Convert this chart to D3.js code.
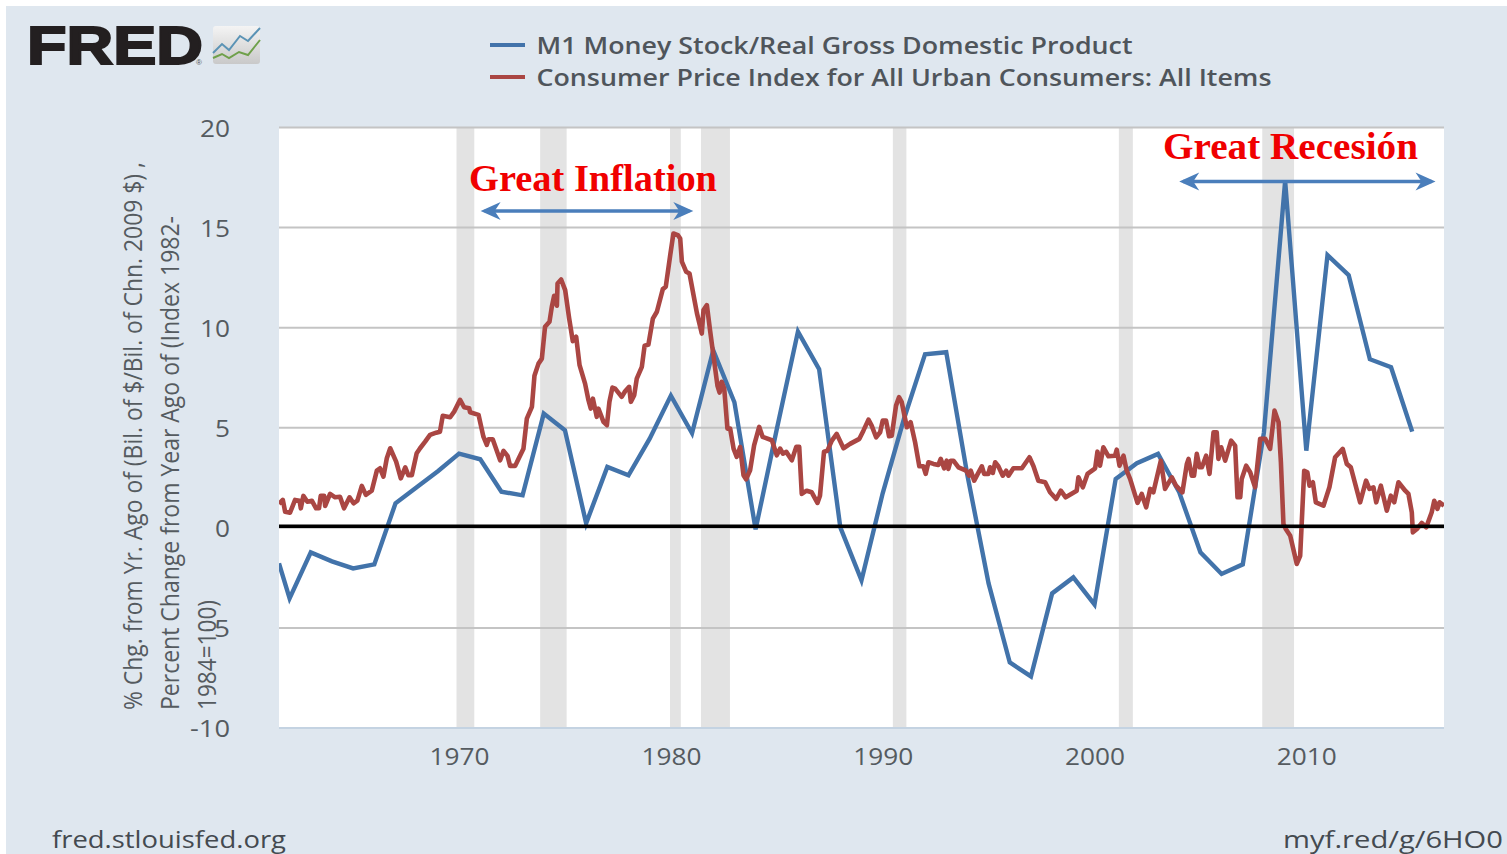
<!DOCTYPE html>
<html><head><meta charset="utf-8">
<script src="https://cdn.jsdelivr.net/npm/d3@7"></script>
<style>html,body{margin:0;padding:0;background:#fff;overflow:hidden}svg{display:block}</style>
</head><body><svg id="c" width="1507" height="854"></svg>
<script>
const m1Years=[1961.5,1962,1963,1964,1965,1966,1967,1968,1969,1970,1971,1972,1973,1974,1975,1976,1977,1978,1979,1980,1981,1982,1983,1984,1985,1986,1987,1988,1989,1990,1991,1992,1993,1994,1995,1996,1997,1998,1999,2000,2001,2002,2003,2004,2005,2006,2007,2008,2009,2010,2011,2012,2013,2014,2015];
const m1Values=[-1.8,-3.55,-1.25,-1.7,-2.05,-1.85,1.2,2.0,2.8,3.68,3.4,1.78,1.6,5.68,4.85,0.2,3.02,2.6,4.43,6.58,4.7,8.85,6.25,-0.1,4.9,9.78,7.9,0.0,-2.65,1.7,5.4,8.65,8.75,2.6,-2.8,-6.75,-7.45,-3.3,-2.5,-3.85,2.42,3.2,3.67,1.75,-1.25,-2.33,-1.85,4.75,17.3,3.83,13.6,12.6,8.4,8.0,4.78];

const cpiYears=[1961.5,1961.68,1961.79,1962.02,1962.26,1962.47,1962.53,1962.65,1962.84,1963.05,1963.25,1963.39,1963.47,1963.63,1963.68,1963.91,1964.15,1964.38,1964.57,1964.83,1965.02,1965.2,1965.41,1965.6,1965.88,1966.12,1966.27,1966.43,1966.59,1966.75,1967.03,1967.25,1967.46,1967.61,1967.77,1968.0,1968.16,1968.4,1968.63,1968.92,1969.1,1969.23,1969.58,1969.77,1970.05,1970.24,1970.48,1970.52,1970.92,1971.15,1971.31,1971.39,1971.59,
1971.94,1972.1,1972.29,1972.41,1972.65,1972.81,1973.04,1973.2,1973.44,1973.56,1973.75,1973.91,1974.06,1974.27,1974.38,1974.49,1974.62,1974.65,1974.82,1975.01,1975.2,1975.37,1975.53,1975.69,1975.95,1976.11,1976.22,1976.32,1976.5,1976.58,1976.82,1976.98,1977.1,1977.24,1977.37,1977.68,1977.84,1978.03,1978.11,1978.27,1978.39,1978.63,1978.76,1978.94,1979.15,1979.34,1979.62,1979.76,1979.97,1980.12,1980.33,1980.44,1980.52,1980.72,1980.88,1981.1,1981.23,1981.46,1981.54,1981.7,1981.85,1982.01,1982.2,1982.3,1982.4,1982.52,1982.67,1982.8,1982.96,1983.11,1983.27,1983.43,1983.55,1983.74,1983.93,1984.17,1984.33,1984.77,1985.0,1985.16,1985.29,1985.45,1985.71,1985.92,1986.06,
1986.18,1986.41,1986.65,1986.92,1987.04,1987.23,1987.39,1987.6,1987.83,1988.15,1988.46,1988.9,1989.09,1989.33,1989.48,1989.69,1989.88,1990.0,1990.16,1990.3,1990.43,1990.63,1990.77,1990.9,1991.14,1991.32,1991.53,1991.73,1991.92,1992.03,1992.16,1992.4,1992.63,1992.74,1992.9,1993.02,1993.1,1993.21,1993.34,1993.58,1993.94,1994.08,1994.16,1994.32,1994.68,1994.79,1994.99,1995.07,1995.2,1995.31,1995.46,1995.67,1995.83,1995.94,1996.17,1996.57,1996.93,1997.12,1997.35,1997.67,1997.9,1998.19,1998.41,1998.64,1999.16,1999.24,1999.45,1999.67,2000.03,2000.14,2000.26,2000.42,2000.66,2000.97,2001.05,2001.18,
2001.37,2001.52,2001.68,2002.03,2002.23,2002.44,2002.63,2002.78,2003.13,2003.33,2003.65,2003.85,2004.15,2004.36,2004.44,2004.59,2004.7,2004.83,2004.96,2005.07,2005.27,2005.43,2005.62,2005.77,2005.85,2005.98,2006.17,2006.45,2006.64,2006.75,2006.88,2006.95,2007.16,2007.35,2007.58,2007.82,2008.06,2008.29,2008.5,2008.69,2008.8,2008.92,2009.03,2009.24,2009.55,2009.71,2009.9,2010.05,2010.15,2010.31,2010.45,2010.81,2011.09,2011.36,2011.72,2011.91,2012.1,2012.54,2012.82,2012.98,2013.17,2013.3,2013.52,2013.8,2013.99,2014.15,2014.35,2014.67,2014.82,2014.98,2015.03,2015.22,2015.45,2015.66,2015.92,2016.04,2016.19,2016.29,2016.5];
const cpiValues=[1.17,1.37,0.78,0.73,1.37,1.33,0.95,1.57,1.28,1.33,0.95,0.95,1.58,1.58,1.07,1.67,1.5,1.53,0.95,1.5,1.2,1.33,2.07,1.62,1.83,2.83,2.95,2.53,3.45,3.95,3.28,2.45,3.0,2.6,2.6,3.7,3.95,4.28,4.62,4.73,4.78,5.57,5.5,5.78,6.37,6.0,5.95,5.75,5.62,4.53,4.12,4.4,4.4,
3.35,3.82,3.57,3.07,3.07,3.43,3.93,5.43,6.02,7.57,8.18,8.43,10.02,10.27,11.02,11.57,11.07,12.18,12.38,11.85,10.43,9.3,9.52,8.1,7.18,6.35,5.93,6.43,5.52,5.93,5.27,5.1,6.27,6.98,6.93,6.52,6.8,7.02,6.27,6.6,7.43,8.02,9.07,9.13,10.43,10.77,11.9,12.02,13.6,14.68,14.6,14.43,13.27,12.77,12.68,11.43,10.7,9.68,10.85,11.1,9.85,8.57,7.07,6.73,7.27,6.93,4.93,4.93,3.93,3.52,4.02,2.6,2.4,2.85,4.1,5.02,4.52,4.35,3.6,3.93,3.68,3.77,3.35,4.02,4.02,
1.67,1.83,1.75,1.22,1.58,3.78,3.83,4.33,4.67,3.95,4.17,4.42,4.83,5.38,5.08,4.5,4.75,5.33,5.33,4.55,4.58,6.08,6.5,6.25,5.0,5.25,4.25,3.05,3.05,2.67,3.25,3.17,3.12,3.42,2.95,3.33,2.92,3.33,3.33,3.0,2.83,2.58,2.83,2.33,3.05,2.67,2.67,3.0,2.72,3.25,3.05,2.58,2.83,2.58,2.95,2.95,3.5,3.05,2.33,2.25,1.75,1.42,1.83,1.5,1.83,2.5,2.0,2.67,2.95,3.78,3.08,4.0,3.55,3.58,3.88,3.08,
3.58,2.83,2.42,1.22,1.67,1.0,1.92,1.75,3.33,1.92,2.5,2.08,1.75,3.17,3.42,2.58,2.58,3.67,3.0,3.0,3.58,2.67,4.75,4.75,3.42,4.0,3.33,4.33,4.08,1.5,1.5,2.42,3.08,2.75,2.0,4.42,4.42,3.92,5.83,5.25,3.25,0.17,-0.08,-0.42,-1.83,-1.42,2.83,2.75,2.08,2.25,1.25,1.08,2.0,3.5,3.92,3.17,3.0,1.25,2.33,1.92,2.0,1.25,2.08,0.83,1.58,1.25,2.25,1.83,1.67,0.75,-0.25,-0.08,0.22,0,0.75,1.33,0.92,1.25,1.08];

const recessionStarts=[1969.88,1973.83,1979.96,1981.42,1990.48,2001.15,2007.92];
const recessionEnds=[1970.72,1975.08,1980.47,1982.79,1991.12,2001.81,2009.42];
const xTicks=[1970,1980,1990,2000,2010];
const yTicks=[-10,-5,0,5,10,15,20];
const legendLabels=["M1 Money Stock/Real Gross Domestic Product","Consumer Price Index for All Urban Consumers: All Items"];
const axisTitleLines=["% Chg. from Yr. Ago of (Bil. of $/Bil. of Chn. 2009 $) ,","Percent Change from Year Ago of (Index 1982-","1984=100)"];
const arrowRanges=[[1971.02,1981.06],[2004.0,2016.1]];
const arrowLevels=[15.8,17.28];
const noteLabels=["Great Inflation","Great Recesión"];
const zeroLine=0.05;

const BLUE="#4273aa",RED="#aa4643",TXT="#555b60";
const svg=d3.select("#c");
const FONT="'Open Sans',sans-serif";
svg.append("rect").attr("x",6).attr("y",6).attr("width",1501).attr("height",848).attr("fill","#dfe7ef");

const x=d3.scaleLinear().domain([1961.5,2016.5]).range([279,1444]);
const y=d3.scaleLinear().domain([-10,20]).range([727.5,127]);

svg.append("rect").attr("x",279).attr("y",127).attr("width",1165).attr("height",600.5).attr("fill","#fff");

svg.append("g").selectAll("rect").data(recessionStarts).join("rect")
 .attr("x",d=>x(d)).attr("y",127).attr("height",600.5)
 .attr("width",(d,i)=>x(recessionEnds[i])-x(d)).attr("fill","#e3e3e3");

// Axes
const gy=svg.append("g").attr("transform","translate(279,0)")
 .call(d3.axisLeft(y).tickValues(yTicks).tickSize(-1165).tickPadding(49).tickFormat(d=>d));
gy.select(".domain").remove();
gy.selectAll("line").attr("stroke","#c4c4c4").attr("stroke-width",2);
gy.selectAll("line").filter(d=>d===-10).attr("stroke","#c4d3e2");
gy.selectAll("text").attr("font-family",FONT).attr("font-size",24).attr("fill",TXT).attr("dy","0.38em")
  .attr("textLength",d=>Math.abs(d).toString().length*15+(d<0?10:0)).attr("lengthAdjust","spacingAndGlyphs");

const gx=svg.append("g").attr("transform","translate(0,727.5)")
 .call(d3.axisBottom(x).tickValues(xTicks).tickSize(0).tickPadding(20).tickFormat(d3.format("d")));
gx.select(".domain").remove();
gx.selectAll("text").attr("font-family",FONT).attr("font-size",24).attr("fill",TXT)
  .attr("textLength",60).attr("lengthAdjust","spacingAndGlyphs");

// Lines
svg.append("clipPath").attr("id","pc").append("rect").attr("x",279).attr("y",127).attr("width",1165).attr("height",601);
const lineGen=d3.line().x(d=>x(d[0])).y(d=>y(d[1]));
svg.append("path").datum(d3.zip(m1Years,m1Values)).attr("d",lineGen).attr("clip-path","url(#pc)")
 .attr("fill","none").attr("stroke",BLUE).attr("stroke-width",4.4).attr("stroke-linejoin","miter");
svg.append("path").datum(d3.zip(cpiYears,cpiValues)).attr("d",lineGen).attr("clip-path","url(#pc)")
 .attr("fill","none").attr("stroke",RED).attr("stroke-width",4.6).attr("stroke-linejoin","round");

svg.append("line").attr("x1",279).attr("x2",1444).attr("y1",y(zeroLine)).attr("y2",y(zeroLine)).attr("stroke","#000").attr("stroke-width",3.5);

// Axis title
const titleX=[142,179,216], titleLen=[548,494,110];
axisTitleLines.forEach((t,i)=>{
  svg.append("text").attr("transform",`translate(${titleX[i]},710) rotate(-90)`)
   .attr("font-family",FONT).attr("font-size",25).attr("fill",TXT)
   .attr("textLength",titleLen[i]).attr("lengthAdjust","spacingAndGlyphs").text(t);
});

// Legend
const legendY=[45,77], legendLen=[596,735], legendColor=[BLUE,RED];
legendLabels.forEach((t,i)=>{
  svg.append("line").attr("x1",490).attr("x2",525).attr("y1",legendY[i]).attr("y2",legendY[i]).attr("stroke",legendColor[i]).attr("stroke-width",4);
  svg.append("text").attr("x",536.5).attr("y",legendY[i]+8.5).attr("font-family",FONT).attr("font-size",24).attr("font-weight",600)
   .attr("fill","#4f555b").attr("textLength",legendLen[i]).attr("lengthAdjust","spacingAndGlyphs").text(t);
});

// Notes
const noteX=[469,1163], noteY=[190.5,158.5], noteLen=[248,255];
noteLabels.forEach((t,i)=>{
  svg.append("text").attr("x",noteX[i]).attr("y",noteY[i]).attr("font-family","'Liberation Serif',serif").attr("font-weight",700)
   .attr("font-size",37).attr("fill","#f00000").attr("textLength",noteLen[i]).attr("lengthAdjust","spacingAndGlyphs").text(t);
});
arrowRanges.forEach((r,i)=>{
  const a=x(r[0]),b=x(r[1]),v=y(arrowLevels[i]);
  svg.append("line").attr("x1",a+4).attr("x2",b-4).attr("y1",v).attr("y2",v).attr("stroke","#4a7ebb").attr("stroke-width",3.6);
  svg.append("path").attr("d",`M${a+20},${v-9}L${a},${v}L${a+20},${v+9}L${a+14},${v}Z`).attr("fill","#4a7ebb");
  svg.append("path").attr("d",`M${b-20},${v-9}L${b},${v}L${b-20},${v+9}L${b-14},${v}Z`).attr("fill","#4a7ebb");
});

// Logo
svg.append("text").attr("x",27).attr("y",64).attr("font-family","'Liberation Sans',sans-serif").attr("font-weight",700)
 .attr("font-size",53).attr("fill","#231f20").attr("stroke","#231f20").attr("stroke-width",2)
 .attr("textLength",176).attr("lengthAdjust","spacingAndGlyphs").text("FRED");
svg.append("text").attr("x",196).attr("y",65).attr("font-family","'Liberation Sans',sans-serif").attr("font-size",8).attr("fill","#555").text("®");
const defs=svg.append("defs");
const gr=defs.append("linearGradient").attr("id","lg").attr("x1",0).attr("y1",0).attr("x2",0).attr("y2",1);
gr.append("stop").attr("offset",0).attr("stop-color","#f4f4f4");
gr.append("stop").attr("offset",1).attr("stop-color","#c9c9c9");
svg.append("rect").attr("x",213).attr("y",26).attr("width",47).attr("height",38).attr("rx",3).attr("fill","url(#lg)");
svg.append("polyline").attr("points","213,53 222,44 229,50 240,36 248,41 260,28").attr("fill","none").attr("stroke","#5b93b5").attr("stroke-width",2);
svg.append("polyline").attr("points","213,58 222,54 229,58 239,52 248,55 260,40").attr("fill","none").attr("stroke","#6fa04a").attr("stroke-width",2);

// Footer
svg.append("text").attr("x",52).attr("y",848).attr("font-family",FONT).attr("font-size",23).attr("fill","#444a50")
 .attr("textLength",234).attr("lengthAdjust","spacingAndGlyphs").text("fred.stlouisfed.org");
svg.append("text").attr("x",1283).attr("y",848).attr("font-family",FONT).attr("font-size",23).attr("fill","#444a50")
 .attr("textLength",220).attr("lengthAdjust","spacingAndGlyphs").text("myf.red/g/6HO0");
</script></body></html>
